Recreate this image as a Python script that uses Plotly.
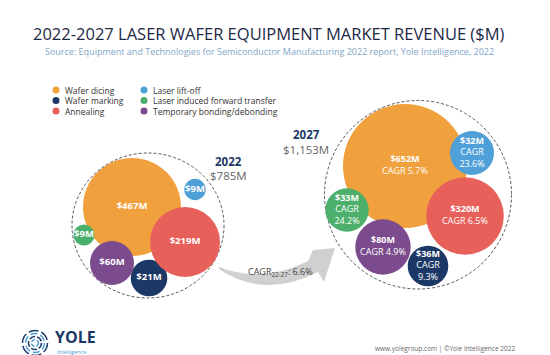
import plotly.graph_objects as go

# ---------------- data ----------------
segments = ["Wafer dicing", "Wafer marking", "Annealing", "Laser lift-off",
            "Laser induced forward transfer", "Temporary bonding/debonding"]
rev_2022 = [467, 21, 219, 9, 9, 60]          # $M
rev_2027 = [652, 36, 320, 32, 33, 80]        # $M
cagr = [5.7, 9.3, 6.5, 23.6, 24.2, 4.9]      # %
total_2022 = 785
total_2027 = 1153
total_cagr = 6.6
years = ["2022", "2027"]

# ---------------- layout / style ----------------
colors = ["#F0A13D", "#1B3866", "#E8605A", "#4F9FD8", "#4DAF6C", "#7B4B8E"]
FONT = "Open Sans"
W, H = 550, 355

# bubble centres & radii (px in a 550x355 canvas)
cx_2022 = [124, 141, 177, 187, 76, 104]
cy_2022 = [199, 270, 234, 181.5, 227, 255]
r_2022 = [49, 18.3, 35, 10.7, 10.5, 22]
cx_2027 = [397, 420, 457, 464, 339, 375]
cy_2027 = [158, 258, 208, 145, 202, 239]
r_2027 = [62, 20.3, 38.8, 22, 21.7, 27.7]
split_cagr = [False, True, False, True, True, False]   # CAGR on its own line

# legend placement (2 columns, column-major)
leg_x = [48, 48, 48, 136, 136, 136]
leg_y = [82, 92.5, 103, 82, 92.5, 103]

fig = go.Figure()

# enclosing dashed circles
fig.add_shape(type="circle", xref="x", yref="y", x0=64, x1=216, y0=145, y1=290,
              line=dict(color="#555", width=1, dash="3px,2px"), layer="below")
fig.add_shape(type="circle", xref="x", yref="y", x0=316.5, x1=503.5, y0=92.5, y1=281,
              line=dict(color="#555", width=1, dash="3px,2px"), layer="below")

# curved arrow
fig.add_shape(type="path", xref="x", yref="y",
              path="M 211,259 Q 254.5,276 300,253 L 305,242 L 327,240 L 316,274 "
                   "L 310,264 Q 255.5,291.5 211,261 Z",
              fillcolor="#D0D0D0", line=dict(width=0), layer="below")

# bubbles
def fmt(v):
    return f"${v:,}M"

fig.add_trace(go.Scatter(
    x=cx_2022, y=cy_2022, mode="markers+text",
    marker=dict(size=[2 * r for r in r_2022], color=colors, line=dict(width=0), opacity=1),
    text=[f"<b>{fmt(v)}</b>" for v in rev_2022],
    textposition="middle center",
    textfont=dict(family=FONT, size=9.5, color="white"),
    hoverinfo="skip", showlegend=False))

labels_2027 = []
for v, c, s in zip(rev_2027, cagr, split_cagr):
    if s:
        labels_2027.append(f"<b>{fmt(v)}</b><br>CAGR<br>{c}%")
    else:
        labels_2027.append(f"<b>{fmt(v)}</b><br>CAGR {c}%")

fig.add_trace(go.Scatter(
    x=cx_2027, y=cy_2027, mode="markers+text",
    marker=dict(size=[2 * r for r in r_2027], color=colors, line=dict(width=0), opacity=1),
    text=labels_2027,
    textposition="middle center",
    textfont=dict(family=FONT, size=9, color="white"),
    hoverinfo="skip", showlegend=False))

# custom legend
fig.add_trace(go.Scatter(
    x=leg_x, y=leg_y, mode="markers",
    marker=dict(size=7, color=colors, line=dict(width=0)),
    hoverinfo="skip", showlegend=False))
ann = []
for lx, ly, name in zip(leg_x, leg_y, segments):
    ann.append(dict(x=lx + 7.5, y=ly, text=name, xanchor="left", yanchor="middle",
                    font=dict(family=FONT, size=8.5, color="#333")))

# title / subtitle
ann.append(dict(x=261, y=25, text="2022-2027 LASER WAFER EQUIPMENT MARKET REVENUE ($M)",
                xanchor="center", yanchor="middle",
                font=dict(family=FONT, size=16.5, color="#1D2945")))
ann.append(dict(x=261, y=43,
                text="Source: Equipment and Technologies for Semiconductor Manufacturing 2022 report, Yole Intelligence, 2022",
                xanchor="center", yanchor="middle",
                font=dict(family=FONT, size=9, color="#7FA6C6")))

# year totals
ann.append(dict(x=220, y=153.5, text=f"<b>{years[0]}</b>", xanchor="center", yanchor="middle",
                font=dict(family=FONT, size=11.5, color="#1B3866")))
ann.append(dict(x=220, y=167.5, text=f"${total_2022:,}M", xanchor="center", yanchor="middle",
                font=dict(family=FONT, size=11.5, color="#666")))
ann.append(dict(x=298, y=126.5, text=f"<b>{years[1]}</b>", xanchor="center", yanchor="middle",
                font=dict(family=FONT, size=11.5, color="#1B3866")))
ann.append(dict(x=298, y=141, text=f"${total_2027:,}M", xanchor="center", yanchor="middle",
                font=dict(family=FONT, size=11.5, color="#666")))

# arrow label
ann.append(dict(x=272, y=264, text=f"CAGR<sub>22-27</sub>: {total_cagr}%",
                xanchor="center", yanchor="middle",
                font=dict(family=FONT, size=9, color="#444")))

# footer
ann.append(dict(x=508, y=340, text="www.yolegroup.com | ©Yole Intelligence 2022",
                xanchor="right", yanchor="middle",
                font=dict(family=FONT, size=6.5, color="#666")))
ann.append(dict(x=46, y=329, text="<b>YOLE</b>", xanchor="left", yanchor="middle",
                font=dict(family=FONT, size=16, color="#1B3866")))
ann.append(dict(x=48, y=343.5, text="Intelligence", xanchor="left", yanchor="middle",
                font=dict(family=FONT, size=5.5, color="#4F9FD8")))

# logo rings
for rr, col, dash in [(12.5, "#1B3866", "10px,3px"), (9.5, "#4F9FD8", "7px,3px"),
                      (6.5, "#1B3866", "6px,2px"), (3.5, "#4F9FD8", "4px,2px")]:
    fig.add_shape(type="circle", xref="x", yref="y", x0=27 - rr, x1=27 + rr,
                  y0=335 - rr, y1=335 + rr, line=dict(color=col, width=1.5, dash=dash))

fig.update_layout(
    width=W, height=H, margin=dict(l=0, r=0, t=0, b=0),
    paper_bgcolor="white", plot_bgcolor="white",
    xaxis=dict(range=[0, W], visible=False, fixedrange=True),
    yaxis=dict(range=[H, 0], visible=False, fixedrange=True),
    annotations=[dict(a, xref="x", yref="y", showarrow=False, borderpad=0) for a in ann],
    showlegend=False,
)

fig.write_html("out.html")
